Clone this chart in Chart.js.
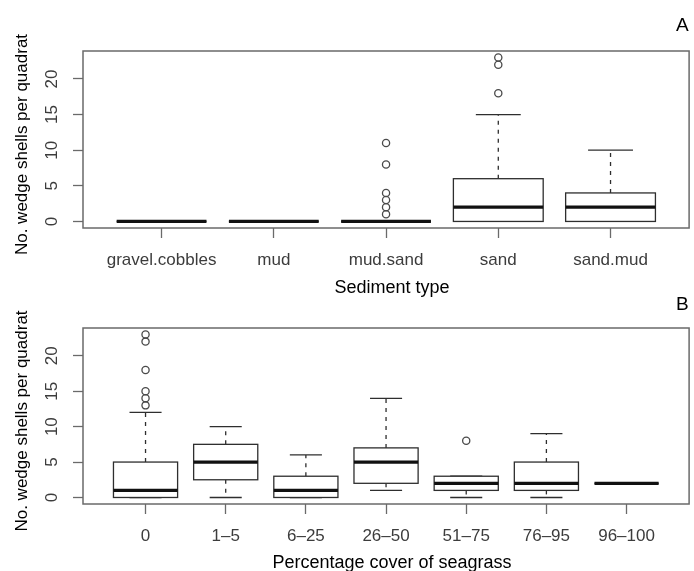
<!DOCTYPE html>
<html>
<head>
<meta charset="utf-8">
<title>Wedge shells per quadrat</title>
<script src="https://cdn.jsdelivr.net/npm/chart.js@4/dist/chart.umd.min.js"></script>
<style>
  html, body { margin: 0; padding: 0; background: #fff; }
  #wrap { position: relative; width: 694px; height: 571px; background: #fff; overflow: hidden; }
  canvas { position: absolute; left: 0; display: block; }
  #panelA { top: 0; }
  #panelB { top: 288px; }
</style>
</head>
<body>
<div id="wrap">
  <canvas id="panelA" width="694" height="298"></canvas>
  <canvas id="panelB" width="694" height="283"></canvas>
</div>
<script>
// ---- Panel A: shells per quadrat by sediment type ----
const sedimentTypes = ['gravel.cobbles', 'mud', 'mud.sand', 'sand', 'sand.mud'];
const sedimentLowerWhisker = [0, 0, 0, 0, 0];
const sedimentQ1 = [0, 0, 0, 0, 0];
const sedimentMedian = [0, 0, 0, 2, 2];
const sedimentQ3 = [0, 0, 0, 6, 4];
const sedimentUpperWhisker = [0, 0, 0, 15, 10];
const sedimentOutliers = [[], [], [11, 8, 4, 3, 2, 1], [18, 22, 23], []];

// ---- Panel B: shells per quadrat by percentage seagrass cover ----
const seagrassCover = ['0', '1–5', '6–25', '26–50', '51–75', '76–95', '96–100'];
const seagrassLowerWhisker = [0, 0, 0, 1, 0, 0, 2];
const seagrassQ1 = [0, 2.5, 0, 2, 1, 1, 2];
const seagrassMedian = [1, 5, 1, 5, 2, 2, 2];
const seagrassQ3 = [5, 7.5, 3, 7, 3, 5, 2];
const seagrassUpperWhisker = [12, 10, 6, 14, 3, 9, 2];
const seagrassOutliers = [[13, 14, 15, 18, 22, 23], [], [], [], [8], [], []];

// Shared y axis
const yTickValues = [0, 5, 10, 15, 20];
const yDataMin = 0, yDataMax = 23;

const FONT = '"Liberation Sans", Arial, Helvetica, sans-serif';
const AXIS_GREY = '#6a6a6a';
const LABEL_GREY = '#3c3c3c';

// Boxes, whiskers, staples and medians, placed through the chart's scales
const boxPlot = {
  id: 'boxPlot',
  beforeDatasetsDraw(chart, args, o) {
    const { ctx, scales: { x, y } } = chart;
    const half = o.boxWidth / 2, staple = o.boxWidth / 4;
    const line = (x1, y1, x2, y2) => { ctx.beginPath(); ctx.moveTo(x1, y1); ctx.lineTo(x2, y2); ctx.stroke(); };
    ctx.save();
    o.median.forEach((med, i) => {
      const c = i + 1;
      const xl = x.getPixelForValue(c - half), xr = x.getPixelForValue(c + half);
      const xc = x.getPixelForValue(c);
      const sl = x.getPixelForValue(c - staple), sr = x.getPixelForValue(c + staple);
      const yLo = y.getPixelForValue(o.lower[i]), yQ1 = y.getPixelForValue(o.q1[i]);
      const yMed = y.getPixelForValue(med);
      const yQ3 = y.getPixelForValue(o.q3[i]), yHi = y.getPixelForValue(o.upper[i]);
      ctx.strokeStyle = o.lineColor;
      ctx.lineWidth = 1.3;
      ctx.lineCap = 'butt';
      // dashed whiskers
      ctx.setLineDash([4, 5]);
      if (yHi < yQ3) line(xc, yQ3, xc, yHi);
      if (yLo > yQ1) line(xc, yQ1, xc, yLo);
      ctx.setLineDash([]);
      // staples
      line(sl, yHi, sr, yHi);
      line(sl, yLo, sr, yLo);
      // box
      ctx.fillStyle = '#fff';
      ctx.fillRect(xl, yQ3, xr - xl, yQ1 - yQ3);
      ctx.strokeRect(xl, yQ3, xr - xl, yQ1 - yQ3);
      // median
      ctx.strokeStyle = o.medianColor;
      ctx.lineWidth = 3.2;
      line(xl, yMed, xr, yMed);
    });
    ctx.restore();
  },
  afterDatasetsDraw(chart) {
    const { ctx, chartArea: a } = chart;
    ctx.save();
    ctx.strokeStyle = AXIS_GREY;
    ctx.lineWidth = 1.5;
    ctx.strokeRect(a.left, a.top, a.right - a.left, a.bottom - a.top);
    ctx.restore();
  }
};

// Axis titles and the panel letter
const panelText = {
  id: 'panelText',
  afterDraw(chart, args, o) {
    const { ctx, chartArea: a } = chart;
    ctx.save();
    ctx.fillStyle = '#000';
    ctx.textBaseline = 'alphabetic';
    ctx.font = '18px ' + FONT;
    ctx.textAlign = 'center';
    ctx.fillText(o.xTitle, (a.left + a.right) / 2 + o.xTitleShift, o.xTitleBaseline);
    ctx.font = '17px ' + FONT;
    ctx.translate(o.yTitleBaseline, (a.top + a.bottom) / 2 + o.yTitleShift);
    ctx.rotate(-Math.PI / 2);
    ctx.fillText(o.yTitle, 0, 0);
    ctx.restore();
    ctx.save();
    ctx.fillStyle = '#000';
    ctx.font = '19px ' + FONT;
    ctx.textAlign = 'right';
    ctx.textBaseline = 'alphabetic';
    ctx.fillText(o.letter, a.right - 0.5, o.letterBaseline);
    ctx.restore();
  }
};

function outlierPoints(outliers) {
  const pts = [];
  outliers.forEach((vals, i) => vals.forEach(v => pts.push({ x: i + 1, y: v })));
  return pts;
}

function makePanel(id, p) {
  const pad = (yDataMax - yDataMin) * 0.04;
  const xPad = p.categories.length * 0.04;
  return new Chart(document.getElementById(id), {
    type: 'scatter',
    data: {
      datasets: [{
        data: outlierPoints(p.outliers),
        pointStyle: 'circle',
        pointRadius: 3.6,
        pointHoverRadius: 3.6,
        pointBorderWidth: 1.3,
        pointBorderColor: '#4a4a4a',
        pointBackgroundColor: 'rgba(255,255,255,0)',
        showLine: false
      }]
    },
    options: {
      responsive: false,
      animation: false,
      events: [],
      layout: { padding: { left: 0, right: 1, top: p.top, bottom: 0 } },
      plugins: {
        legend: { display: false },
        tooltip: { enabled: false },
        boxPlot: {
          boxWidth: 0.8,
          lineColor: '#2e2e2e',
          medianColor: '#111',
          lower: p.lower, q1: p.q1, median: p.median, q3: p.q3, upper: p.upper
        },
        panelText: p.text
      },
      scales: {
        x: {
          type: 'linear',
          bounds: 'data',
          min: 0.5 - xPad,
          max: p.categories.length + 0.5 + xPad,
          afterBuildTicks: s => { s.ticks = p.categories.map((c, i) => ({ value: i + 1 })); },
          afterFit: s => { s.height = p.xAxisHeight; },
          ticks: {
            autoSkip: false,
            maxRotation: 0,
            minRotation: 0,
            padding: 14,
            color: LABEL_GREY,
            font: { family: FONT, size: 17, lineHeight: 1 },
            callback: v => p.categories[Math.round(v) - 1]
          },
          grid: { display: true, drawOnChartArea: false, drawTicks: true, tickLength: 10, tickWidth: 1.3, tickColor: AXIS_GREY },
          border: { display: false }
        },
        y: {
          type: 'linear',
          bounds: 'data',
          min: yDataMin - pad,
          max: yDataMax + pad,
          afterBuildTicks: s => { s.ticks = yTickValues.map(v => ({ value: v })); },
          afterFit: s => { s.width = 83; },
          ticks: {
            minRotation: 90,
            maxRotation: 90,
            crossAlign: 'center',
            padding: 11,
            color: LABEL_GREY,
            font: { family: FONT, size: 17, lineHeight: 1 }
          },
          grid: { display: true, drawOnChartArea: false, drawTicks: true, tickLength: 10, tickWidth: 1.3, tickColor: AXIS_GREY },
          border: { display: false }
        }
      }
    },
    plugins: [boxPlot, panelText]
  });
}

makePanel('panelA', {
  categories: sedimentTypes,
  lower: sedimentLowerWhisker, q1: sedimentQ1, median: sedimentMedian,
  q3: sedimentQ3, upper: sedimentUpperWhisker, outliers: sedimentOutliers,
  top: 51, xAxisHeight: 70,
  text: {
    xTitle: 'Sediment type', xTitleShift: 6, xTitleBaseline: 292.5,
    yTitle: 'No. wedge shells per quadrat', yTitleBaseline: 27, yTitleShift: 5,
    letter: 'A', letterBaseline: 31
  }
});

makePanel('panelB', {
  categories: seagrassCover,
  lower: seagrassLowerWhisker, q1: seagrassQ1, median: seagrassMedian,
  q3: seagrassQ3, upper: seagrassUpperWhisker, outliers: seagrassOutliers,
  top: 40, xAxisHeight: 67,
  text: {
    xTitle: 'Percentage cover of seagrass', xTitleShift: 6, xTitleBaseline: 280,
    yTitle: 'No. wedge shells per quadrat', yTitleBaseline: 27, yTitleShift: 5,
    letter: 'B', letterBaseline: 22
  }
});
</script>
</body>
</html>
